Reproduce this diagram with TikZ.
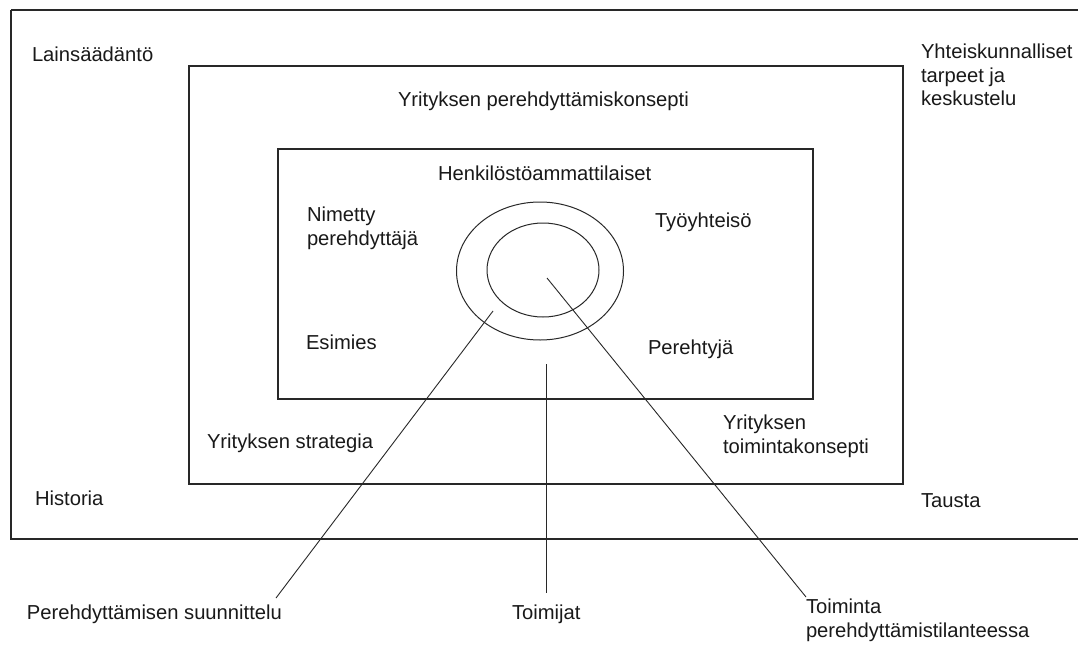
\documentclass[tikz,border=0pt]{standalone}
\usepackage{fontspec}
\setmainfont{Liberation Sans}
\usetikzlibrary{shapes.geometric}
\definecolor{linegray}{RGB}{40,40,40}
\tikzset{
  lbl/.style={anchor=base west, inner sep=0pt, outer sep=0pt, align=left,
    font=\fontsize{20.2}{23.5}\selectfont, text=black!90},
  frame/.style={draw=linegray, line width=1.1pt},
  ring/.style={draw=linegray, line width=1pt, ellipse, inner sep=0pt},
  conn/.style={draw=linegray, line width=0.9pt}
}
\begin{document}
\begin{tikzpicture}[x=1pt,y=-1pt]
\useasboundingbox (0,0) rectangle (1078,645);
\clip (0,0) rectangle (1078,645);
\fill[white] (0,0) rectangle (1078,645);
% frames
\draw[frame, line width=1.4pt] (11,10) -- (1095,10) (11,10) -- (11,539) -- (1095,539);
\draw[frame] (189,66) rectangle (903,484);
\draw[frame] (278,149) rectangle (813,399);
% rings
\node[ring, minimum width=167pt, minimum height=138pt] (outerring) at (540,271) {};
\node[ring, minimum width=112pt, minimum height=94pt] (innerring) at (543,270) {};
% labels
\node[lbl] (lain) at (32,61) {Lainsäädäntö};
\node[lbl, anchor=north west] (yht) at (921,44) {Yhteiskunnalliset\\tarpeet ja\\keskustelu};
\node[lbl] (ypk) at (398,106) {Yrityksen perehdyttämiskonsepti};
\node[lbl] (henk) at (438,180) {Henkilöstöammattilaiset};
\node[lbl, anchor=north west] (nim) at (307,207) {Nimetty\\perehdyttäjä};
\node[lbl] (tyo) at (655,227) {Työyhteisö};
\node[lbl] (esi) at (306,349) {Esimies};
\node[lbl] (pere) at (648,354) {Perehtyjä};
\node[lbl] (ystr) at (207,448) {Yrityksen strategia};
\node[lbl, anchor=north west] (ytk) at (723,415) {Yrityksen\\toimintakonsepti};
\node[lbl] (hist) at (35,505) {Historia};
\node[lbl] (taus) at (921,507) {Tausta};
\node[lbl] (psuun) at (27,619) {Perehdyttämisen suunnittelu};
\node[lbl] (toim) at (512,619) {Toimijat};
\node[lbl, anchor=north west] (tpt) at (806,599) {Toiminta\\perehdyttämistilanteessa};
% connector endpoints
\coordinate (c1a) at (493,311);
\coordinate (c1b) at (276,598);
\coordinate (c2a) at (546,364);
\coordinate (c2b) at (546,593);
\coordinate (c3a) at (547,278);
\coordinate (c3b) at (806,597);
\draw[conn] (c1a) -- (c1b);
\draw[conn] (c2a) -- (c2b);
\draw[conn] (c3a) -- (c3b);
\end{tikzpicture}
\end{document}
